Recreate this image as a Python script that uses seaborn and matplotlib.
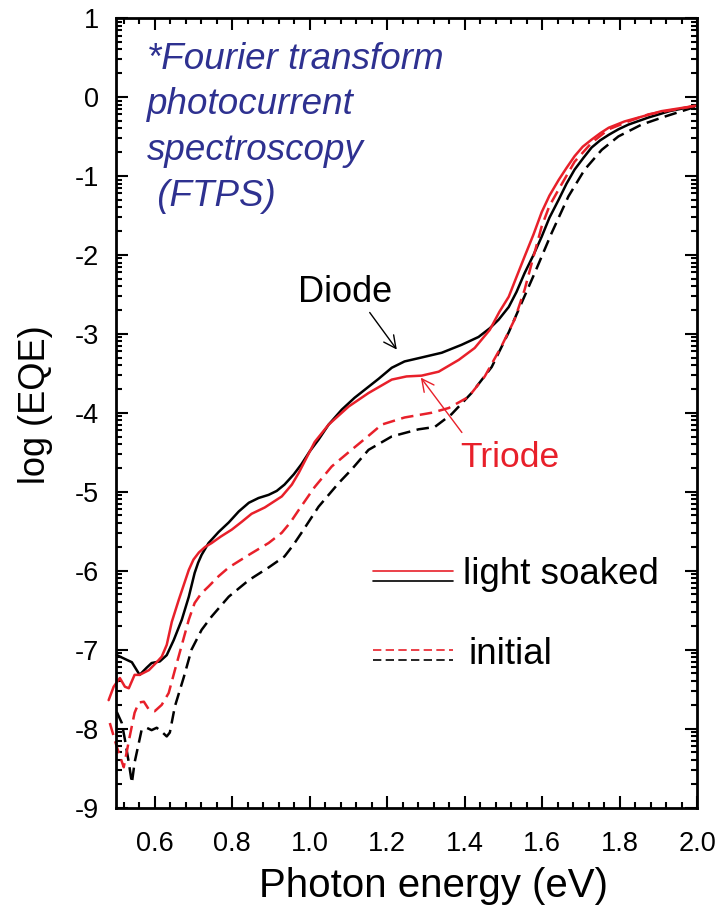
import numpy as np
import pandas as pd
import seaborn as sns
import matplotlib
matplotlib.use("Agg")
import matplotlib.pyplot as plt
from matplotlib.lines import Line2D

# Photon energy (eV) and log10(EQE) for each device / state
diode_soaked_E = [0.502, 0.541, 0.561, 0.579, 0.592, 0.613, 0.631, 0.649, 0.670, 0.688,
                  0.703, 0.712, 0.721, 0.739, 0.765, 0.791, 0.817, 0.843, 0.868, 0.894,
                  0.915, 0.935, 0.959, 0.979, 1.000, 1.023, 1.049, 1.083, 1.116, 1.147,
                  1.178, 1.212, 1.245, 1.289, 1.341, 1.392, 1.436, 1.465, 1.488, 1.514,
                  1.534, 1.555, 1.578, 1.599, 1.619, 1.643, 1.663, 1.684, 1.707, 1.728,
                  1.750, 1.772, 1.797, 1.823, 1.875, 1.929, 1.999]
diode_soaked_y = [-7.07, -7.16, -7.32, -7.23, -7.17, -7.15, -7.07, -6.88, -6.62, -6.33,
                  -6.03, -5.90, -5.80, -5.65, -5.51, -5.39, -5.25, -5.14, -5.08, -5.04,
                  -4.99, -4.91, -4.78, -4.65, -4.49, -4.34, -4.15, -3.96, -3.81, -3.69,
                  -3.57, -3.43, -3.35, -3.30, -3.24, -3.14, -3.04, -2.93, -2.82, -2.66,
                  -2.47, -2.23, -2.00, -1.77, -1.53, -1.30, -1.10, -0.92, -0.77, -0.64,
                  -0.55, -0.48, -0.41, -0.35, -0.26, -0.18, -0.11]

triode_soaked_E = [0.481, 0.494, 0.510, 0.523, 0.533, 0.548, 0.561, 0.585, 0.605, 0.618,
                   0.631, 0.644, 0.662, 0.675, 0.688, 0.700, 0.714, 0.730, 0.747, 0.770,
                   0.799, 0.825, 0.850, 0.884, 0.928, 0.954, 0.972, 0.993, 1.013, 1.049,
                   1.101, 1.152, 1.212, 1.250, 1.289, 1.333, 1.385, 1.426, 1.465, 1.490,
                   1.514, 1.534, 1.555, 1.578, 1.599, 1.619, 1.643, 1.663, 1.684, 1.705,
                   1.728, 1.750, 1.772, 1.813, 1.857, 1.908, 1.999]
triode_soaked_y = [-7.64, -7.47, -7.36, -7.47, -7.49, -7.32, -7.32, -7.26, -7.16, -7.09,
                   -6.94, -6.65, -6.37, -6.18, -5.99, -5.86, -5.77, -5.70, -5.65, -5.57,
                   -5.48, -5.38, -5.28, -5.20, -5.06, -4.91, -4.76, -4.56, -4.37, -4.15,
                   -3.92, -3.75, -3.58, -3.54, -3.53, -3.48, -3.33, -3.18, -2.95, -2.72,
                   -2.53, -2.28, -2.02, -1.74, -1.46, -1.25, -1.05, -0.90, -0.75, -0.63,
                   -0.54, -0.46, -0.39, -0.31, -0.25, -0.18, -0.11]

triode_initial_E = [0.484, 0.502, 0.520, 0.535, 0.548, 0.559, 0.572, 0.585, 0.600, 0.618,
                    0.636, 0.652, 0.670, 0.688, 0.703, 0.720, 0.739, 0.765, 0.791, 0.843,
                    0.894, 0.928, 0.950, 0.972, 1.013, 1.057, 1.108, 1.150, 1.186, 1.245,
                    1.315, 1.359, 1.410, 1.452, 1.495, 1.529, 1.555, 1.578, 1.599, 1.619,
                    1.643, 1.684, 1.728, 1.772, 1.823, 1.875, 1.999]
triode_initial_y = [-7.93, -8.23, -8.49, -8.11, -7.80, -7.67, -7.66, -7.76, -7.78, -7.70,
                    -7.55, -7.26, -6.94, -6.62, -6.41, -6.29, -6.20, -6.07, -5.96, -5.80,
                    -5.65, -5.52, -5.39, -5.23, -4.94, -4.68, -4.47, -4.30, -4.15, -4.06,
                    -4.00, -3.94, -3.80, -3.54, -3.16, -2.82, -2.44, -2.02, -1.64, -1.38,
                    -1.17, -0.82, -0.58, -0.41, -0.31, -0.22, -0.11]

diode_initial_E = [0.502, 0.515, 0.523, 0.533, 0.541, 0.548, 0.559, 0.566, 0.579, 0.592,
                   0.605, 0.618, 0.631, 0.639, 0.652, 0.675, 0.695, 0.721, 0.747, 0.791,
                   0.843, 0.894, 0.935, 0.957, 0.979, 1.023, 1.075, 1.108, 1.152, 1.212,
                   1.281, 1.323, 1.366, 1.418, 1.470, 1.514, 1.539, 1.581, 1.625, 1.668,
                   1.710, 1.754, 1.797, 1.857, 1.916, 1.999]
diode_initial_y = [-7.79, -7.93, -8.14, -8.43, -8.69, -8.43, -8.18, -8.02, -7.99, -8.02,
                   -7.99, -8.04, -8.10, -8.05, -7.72, -7.35, -7.00, -6.75, -6.58, -6.33,
                   -6.12, -5.96, -5.82, -5.68, -5.52, -5.19, -4.89, -4.72, -4.47, -4.30,
                   -4.21, -4.18, -4.02, -3.75, -3.42, -2.98, -2.70, -2.23, -1.72, -1.26,
                   -0.92, -0.67, -0.50, -0.35, -0.25, -0.12]

x_ticks = [0.6, 0.8, 1.0, 1.2, 1.4, 1.6, 1.8, 2.0]
x_tick_labels = ["0.6", "0.8", "1.0", "1.2", "1.4", "1.6", "1.8", "2.0"]
y_ticks = [1, 0, -1, -2, -3, -4, -5, -6, -7, -8, -9]

RED = "#E8202A"
BLACK = "#000000"
NAVY = "#2E3190"

frames = []
for E, y, dev, state in [(diode_soaked_E, diode_soaked_y, "Diode", "light soaked"),
                         (triode_soaked_E, triode_soaked_y, "Triode", "light soaked"),
                         (triode_initial_E, triode_initial_y, "Triode", "initial"),
                         (diode_initial_E, diode_initial_y, "Diode", "initial")]:
    frames.append(pd.DataFrame({"energy": E, "logEQE": y, "device": dev, "state": state}))
df = pd.concat(frames, ignore_index=True)

sns.set_theme(style="ticks")
plt.rcParams["font.family"] = ["Liberation Sans", "DejaVu Sans"]
plt.rcParams.update({"text.color": "black", "axes.labelcolor": "black",
                     "xtick.color": "black", "ytick.color": "black",
                     "xtick.labelcolor": "black", "ytick.labelcolor": "black"})

fig = plt.figure(figsize=(7.17, 9.10), dpi=100)
ax = fig.add_axes([116 / 717, 1 - 807.5 / 910, 581 / 717, 789.5 / 910])

dash_on = (5.0, 2.6)
sns.lineplot(data=df, x="energy", y="logEQE", hue="device", style="state",
             palette={"Diode": BLACK, "Triode": RED},
             dashes={"light soaked": "", "initial": dash_on},
             estimator=None, sort=False, legend=False, linewidth=1.8,
             clip_on=False, ax=ax)

ax.set_xlim(0.5, 2.0)
ax.set_ylim(-9, 1)
ax.set_xticks(x_ticks)
ax.set_xticklabels(x_tick_labels)
ax.set_xticks(np.arange(0.52, 2.0, 0.04), minor=True)
ax.set_yticks(y_ticks)
ax.set_yticklabels([str(v) for v in y_ticks])
minor_y = [n + np.log10(k) for n in range(-9, 1) for k in range(2, 10)]
ax.set_yticks(minor_y, minor=True)

for s in ax.spines.values():
    s.set_linewidth(2.0)
    s.set_color("black")
    s.set_visible(True)
ax.tick_params(which="both", direction="in", top=True, right=True,
               color="black", labelcolor="black", width=1.5)
ax.tick_params(which="major", length=8.5, labelsize=19.5)
ax.tick_params(axis="x", which="major", pad=17)
ax.tick_params(axis="y", which="major", pad=12)
ax.tick_params(which="minor", length=4)

ax.set_xlabel("Photon energy (eV)", fontsize=29, va="center", color="black")
ax.set_ylabel("log (EQE)", fontsize=26, va="center", color="black")
ax.xaxis.set_label_coords(0.547, -0.099)
ax.yaxis.set_label_coords(-0.139, 0.51)

# method note
ax.text(0.053, 0.970, "*Fourier transform\nphotocurrent\nspectroscopy\n (FTPS)",
        transform=ax.transAxes, ha="left", va="top", fontsize=26.5, style="italic",
        color=NAVY, linespacing=1.40)

# device labels with arrows
ax.text(1.091, -2.48, "Diode", fontsize=26, color=BLACK, ha="center", va="center")
ax.annotate("", xy=(1.225, -3.20), xytext=(1.155, -2.73),
            arrowprops=dict(arrowstyle="->", color=BLACK, lw=1.0,
                            mutation_scale=22, shrinkA=0, shrinkB=0))
ax.text(1.517, -4.57, "Triode", fontsize=25.5, color=RED, ha="center", va="center")
ax.annotate("", xy=(1.287, -3.555), xytext=(1.393, -4.25),
            arrowprops=dict(arrowstyle="->", color=RED, lw=1.0,
                            mutation_scale=22, shrinkA=0, shrinkB=0))

# legend: paired red/black samples for each state
def legend_pair(y_red, y_black, dashed):
    ls = (0, dash_on) if dashed else "-"
    for yy, c in [(y_red, RED), (y_black, BLACK)]:
        ax.add_line(Line2D([0.442, 0.580], [yy, yy], transform=ax.transAxes,
                           color=c, lw=1.2, linestyle=ls))

legend_pair(0.2996, 0.2870, False)
ax.text(0.597, 0.2945, "light soaked", transform=ax.transAxes, fontsize=26.5,
        color=BLACK, ha="left", va="center")
legend_pair(0.1995, 0.1870, True)
ax.text(0.606, 0.1935, "initial", transform=ax.transAxes, fontsize=26.5,
        color=BLACK, ha="left", va="center")

fig.savefig("out.png", dpi=100)
